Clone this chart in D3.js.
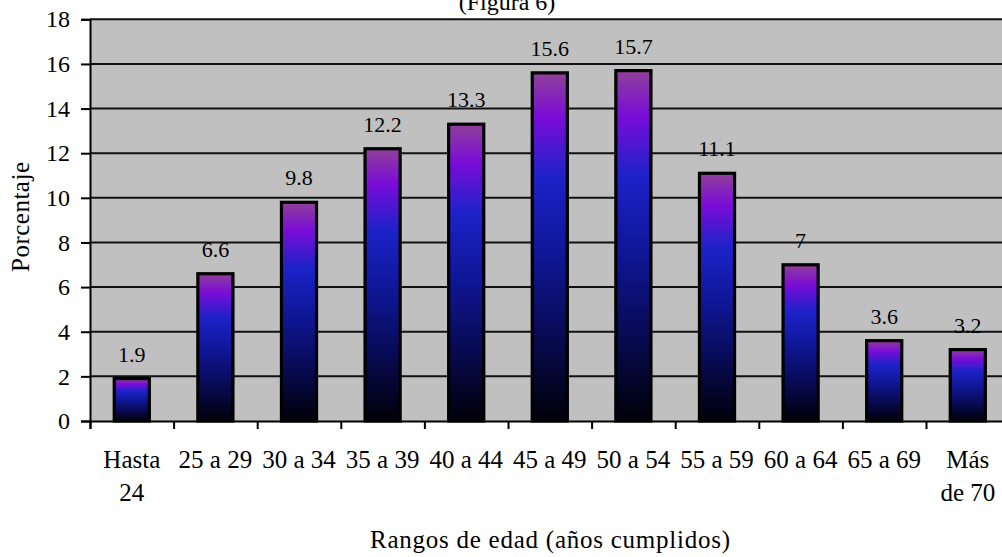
<!DOCTYPE html>
<html>
<head>
<meta charset="utf-8">
<script src="https://cdn.jsdelivr.net/npm/d3@7"></script>
<style>
  html, body { margin: 0; padding: 0; background: #ffffff; }
  svg { display: block; }
  text { font-family: "Liberation Serif", "Times New Roman", serif; fill: #000; }
</style>
</head>
<body>
<svg id="chart" width="1002" height="557"></svg>
<script>
// Age ranges and share of respondents (%)
const categories = ["Hasta 24", "25 a 29", "30 a 34", "35 a 39", "40 a 44", "45 a 49",
                    "50 a 54", "55 a 59", "60 a 64", "65 a 69", "Más de 70"];
const categoryLines = [["Hasta", "24"], ["25 a 29"], ["30 a 34"], ["35 a 39"], ["40 a 44"],
                       ["45 a 49"], ["50 a 54"], ["55 a 59"], ["60 a 64"], ["65 a 69"], ["Más", "de 70"]];
const values = [1.9, 6.6, 9.8, 12.2, 13.3, 15.6, 15.7, 11.1, 7, 3.6, 3.2];
const valueLabels = ["1.9", "6.6", "9.8", "12.2", "13.3", "15.6", "15.7", "11.1", "7", "3.6", "3.2"];
const yTicks = [0, 2, 4, 6, 8, 10, 12, 14, 16, 18];
const chartTitle = "(Figura 6)";
const xTitle = "Rangos de edad (años cumplidos)";
const yTitle = "Porcentaje";

const svg = d3.select("#chart");
const plot = { left: 90, right: 1009.6, top: 19.3, bottom: 421 };

const x = d3.scaleBand()
  .domain(categories)
  .range([plot.left, plot.right])
  .paddingInner(0.58)
  .paddingOuter(0.29);

const y = d3.scaleLinear()
  .domain([0, 18])
  .range([plot.bottom, plot.top]);

// Boundary scale for the category separator ticks
const xb = d3.scaleLinear()
  .domain([0, categories.length])
  .range([plot.left, plot.right]);

// Bar gradient: muted purple at the top, violet, blue, fading to black
const defs = svg.append("defs");
const grad = defs.append("linearGradient")
  .attr("id", "barFill")
  .attr("x1", 0).attr("y1", 0).attr("x2", 0).attr("y2", 1);
[
  [0.00, "#904098"],
  [0.13, "#7a0cd8"],
  [0.30, "#1c22c8"],
  [0.52, "#0f1696"],
  [0.76, "#080a52"],
  [1.00, "#000008"]
].forEach(([o, c]) => grad.append("stop").attr("offset", o).attr("stop-color", c));

// Plot background
svg.append("rect")
  .attr("x", plot.left).attr("y", plot.top)
  .attr("width", plot.right - plot.left).attr("height", plot.bottom - plot.top)
  .attr("fill", "#c0c0c0");

// Horizontal gridlines
svg.append("g")
  .selectAll("line")
  .data(yTicks.filter(d => d > 0))
  .join("line")
  .attr("x1", plot.left).attr("x2", plot.right)
  .attr("y1", d => y(d)).attr("y2", d => y(d))
  .attr("stroke", "#111").attr("stroke-width", 2);

// Bars
svg.append("g")
  .selectAll("rect")
  .data(values)
  .join("rect")
  .attr("x", (d, i) => x(categories[i]))
  .attr("y", d => y(d))
  .attr("width", x.bandwidth())
  .attr("height", d => y(0) - y(d))
  .attr("fill", "url(#barFill)")
  .attr("stroke", "#000")
  .attr("stroke-width", 3.2);

// Value labels above the bars
svg.append("g")
  .selectAll("text")
  .data(values)
  .join("text")
  .attr("x", (d, i) => x(categories[i]) + x.bandwidth() / 2)
  .attr("y", d => y(d) - 17)
  .attr("text-anchor", "middle")
  .attr("font-size", 22)
  .text((d, i) => valueLabels[i]);

// Y axis
const yAxis = svg.append("g")
  .attr("transform", `translate(${plot.left},0)`)
  .call(d3.axisLeft(y).tickValues(yTicks).tickSize(9).tickPadding(11).tickFormat(d3.format("d")));
yAxis.select(".domain").attr("stroke", "#000").attr("stroke-width", 2);
yAxis.selectAll(".tick line").attr("stroke", "#000").attr("stroke-width", 2);
yAxis.selectAll(".tick text")
  .attr("font-family", "Liberation Serif, Times New Roman, serif")
  .attr("font-size", 24).attr("fill", "#000");

// X axis: baseline and separator ticks between categories
const xAxisTicks = svg.append("g")
  .attr("transform", `translate(0,${plot.bottom})`)
  .call(d3.axisBottom(xb).tickValues(d3.range(categories.length + 1)).tickSize(8).tickFormat(""));
xAxisTicks.select(".domain").attr("stroke", "#000").attr("stroke-width", 2);
xAxisTicks.selectAll(".tick line").attr("stroke", "#000").attr("stroke-width", 2);

// X axis category labels (wrapped onto two lines where needed)
const xAxisLabels = svg.append("g")
  .attr("transform", `translate(0,${plot.bottom})`)
  .call(d3.axisBottom(x).tickSize(0).tickFormat(""));
xAxisLabels.select(".domain").remove();
xAxisLabels.selectAll(".tick").each(function(d, i) {
  const t = d3.select(this).append("text")
    .attr("text-anchor", "middle")
    .attr("font-family", "Liberation Serif, Times New Roman, serif")
    .attr("font-size", 25)
    .attr("fill", "#000")
    .attr("y", 47);
  categoryLines[i].forEach((line, k) => {
    t.append("tspan").attr("x", 0).attr("dy", k === 0 ? 0 : 33).text(line);
  });
});

// Titles
svg.append("text")
  .attr("x", 507).attr("y", 10)
  .attr("text-anchor", "middle")
  .attr("font-size", 24)
  .text(chartTitle);

svg.append("text")
  .attr("x", 550).attr("y", 548)
  .attr("text-anchor", "middle")
  .attr("font-size", 25)
  .attr("textLength", 360)
  .attr("lengthAdjust", "spacing")
  .text(xTitle);

svg.append("text")
  .attr("transform", "translate(29,217) rotate(-90)")
  .attr("text-anchor", "middle")
  .attr("font-size", 25)
  .attr("textLength", 110)
  .attr("lengthAdjust", "spacing")
  .text(yTitle);
</script>
</body>
</html>
